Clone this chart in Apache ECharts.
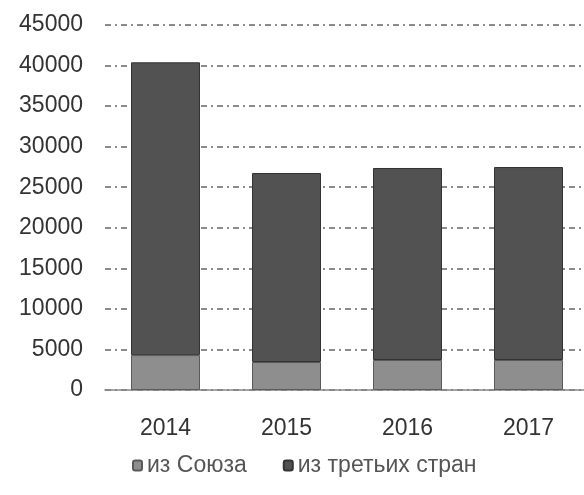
<!DOCTYPE html>
<html>
<head>
<meta charset="utf-8">
<script src="https://cdn.jsdelivr.net/npm/echarts@6/dist/echarts.min.js"></script>
<style>
  html, body { margin: 0; padding: 0; background: #fff; }
  #main { width: 584px; height: 495px; }
</style>
</head>
<body>
<div id="main"></div>
<script>
var years = ["2014", "2015", "2016", "2017"];
var fromUnion = [4300, 3450, 3700, 3700];
var fromThird = [36100, 23300, 23670, 23790];
var seriesNames = ["из Союза", "из третьих стран"];

var chart = echarts.init(document.getElementById("main"));
var font = "Liberation Sans";
var option = {
  animation: false,
  grid: { left: 105, width: 484, top: 25, bottom: 105, outerBoundsMode: "none" },
  legend: {
    data: seriesNames,
    left: 127,
    top: 449,
    itemWidth: 9,
    itemHeight: 10,
    itemGap: 36,
    textStyle: { fontFamily: font, fontSize: 23, color: "#555" }
  },
  xAxis: {
    type: "category",
    data: years,
    axisTick: { show: false },
    axisLine: { lineStyle: { color: "#888", width: 1.5 } },
    axisLabel: { margin: 27, fontFamily: font, fontSize: 23, color: "#333" }
  },
  yAxis: {
    type: "value",
    min: 0,
    max: 45000,
    interval: 5000,
    axisLine: { show: false },
    axisTick: { show: false },
    axisLabel: {
      margin: 22, fontFamily: font, fontSize: 23, color: "#333",
      formatter: function (v) { return String(v); }
    },
    splitLine: { lineStyle: { color: "#666", width: 1.5, type: [6, 4, 2, 4] } }
  },
  series: [
    {
      name: seriesNames[0],
      type: "bar",
      stack: "total",
      data: fromUnion,
      barWidth: 69,
      itemStyle: { color: "#8e8e8e", borderColor: "#5a5a5a", borderWidth: 1 }
    },
    {
      name: seriesNames[1],
      type: "bar",
      stack: "total",
      data: fromThird,
      barWidth: 69,
      itemStyle: { color: "#525252", borderColor: "#333", borderWidth: 1 }
    }
  ]
};
chart.setOption(option);
</script>
</body>
</html>
